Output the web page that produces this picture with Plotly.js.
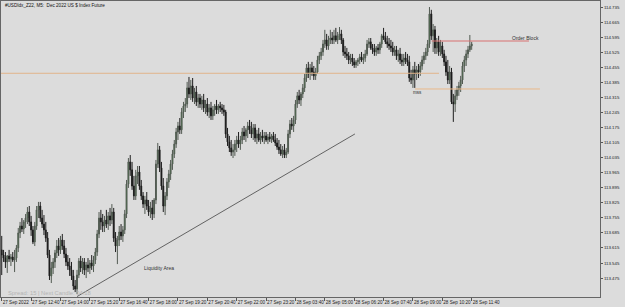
<!DOCTYPE html>
<html>
<head>
<meta charset="utf-8">
<script src="https://cdn.plot.ly/plotly-3.0.1.min.js"></script>
<style>html,body{margin:0;padding:0;background:#dcdcdc;}#chart{width:625px;height:307px;}</style>
</head>
<body>
<div id="chart"></div>
<script>
const openP = [113.606,113.582,113.568,113.550,113.578,113.564,113.573,113.559,113.568,113.615,113.685,113.717,113.703,113.736,113.754,113.782,113.736,113.699,113.643,113.717,113.792,113.810,113.754,113.726,113.699,113.661,113.582,113.485,113.522,113.550,113.592,113.624,113.606,113.652,113.624,113.587,113.550,113.531,113.513,113.485,113.438,113.424,113.489,113.554,113.522,113.550,113.513,113.536,113.522,113.545,113.531,113.559,113.596,113.680,113.754,113.736,113.717,113.745,113.726,113.764,113.745,113.782,113.661,113.624,113.652,113.689,113.671,113.699,113.773,113.912,114.015,113.978,113.903,113.857,113.950,113.968,113.903,113.857,113.819,113.838,113.810,113.782,113.801,113.773,113.838,114.005,114.071,113.987,113.903,113.810,113.857,113.922,113.959,114.005,114.052,114.098,114.154,114.182,114.164,114.247,114.275,114.284,114.359,114.331,114.368,114.312,114.340,114.294,114.312,114.284,114.303,114.266,114.284,114.247,114.266,114.229,114.257,114.275,114.257,114.275,114.266,114.257,114.247,114.145,114.108,114.080,114.061,114.071,114.098,114.117,114.098,114.117,114.154,114.136,114.164,114.182,114.164,114.145,114.173,114.126,114.145,114.117,114.136,114.126,114.136,114.117,114.131,114.122,114.136,114.117,114.103,114.084,114.071,114.052,114.071,114.047,114.061,114.145,114.191,114.182,114.210,114.284,114.322,114.303,114.331,114.359,114.405,114.452,114.424,114.452,114.433,114.415,114.433,114.489,114.508,114.526,114.563,114.582,114.554,114.582,114.591,114.582,114.601,114.582,114.601,114.610,114.582,114.526,114.517,114.508,114.489,114.498,114.480,114.466,114.480,114.489,114.503,114.489,114.498,114.517,114.563,114.573,114.545,114.536,114.526,114.545,114.536,114.563,114.601,114.591,114.573,114.563,114.554,114.545,114.526,114.536,114.508,114.517,114.489,114.480,114.498,114.489,114.480,114.405,114.396,114.443,114.424,114.443,114.433,114.461,114.489,114.508,114.526,114.563,114.703,114.601,114.629,114.545,114.573,114.526,114.554,114.517,114.480,114.433,114.396,114.433,114.294,114.284,114.322,114.350,114.368,114.396,114.461,114.489,114.517,114.536,114.554];
const highP = [113.671,113.606,113.596,113.582,113.606,113.587,113.596,113.606,113.629,113.708,113.736,113.754,113.745,113.773,113.805,113.810,113.764,113.717,113.736,113.810,113.829,113.829,113.792,113.768,113.736,113.689,113.606,113.550,113.568,113.606,113.652,113.661,113.671,113.680,113.652,113.615,113.582,113.568,113.550,113.513,113.466,113.513,113.568,113.578,113.568,113.568,113.550,113.568,113.559,113.582,113.578,113.615,113.699,113.782,113.792,113.773,113.764,113.792,113.782,113.801,113.819,113.801,113.689,113.671,113.717,113.726,113.717,113.792,113.931,114.033,114.047,114.015,113.950,113.978,113.996,113.996,113.931,113.875,113.857,113.875,113.838,113.829,113.838,113.847,114.024,114.103,114.089,114.015,113.940,113.875,113.940,113.978,114.024,114.071,114.117,114.173,114.201,114.219,114.266,114.294,114.312,114.387,114.410,114.396,114.405,114.359,114.368,114.331,114.331,114.322,114.331,114.303,114.312,114.284,114.294,114.275,114.284,114.303,114.284,114.294,114.284,114.280,114.257,114.173,114.136,114.117,114.098,114.117,114.136,114.154,114.136,114.173,114.182,114.173,114.201,114.210,114.201,114.191,114.191,114.164,114.173,114.154,114.164,114.154,114.154,114.145,114.154,114.145,114.154,114.145,114.126,114.117,114.098,114.089,114.098,114.080,114.164,114.210,114.219,114.229,114.303,114.340,114.350,114.340,114.377,114.424,114.470,114.480,114.470,114.480,114.461,114.452,114.508,114.526,114.545,114.582,114.629,114.610,114.601,114.629,114.619,114.629,114.638,114.619,114.642,114.629,114.591,114.554,114.545,114.526,114.517,114.517,114.498,114.489,114.498,114.517,114.526,114.517,114.536,114.582,114.591,114.591,114.563,114.563,114.554,114.563,114.573,114.610,114.638,114.619,114.601,114.591,114.582,114.573,114.554,114.554,114.536,114.545,114.517,114.517,114.526,114.517,114.508,114.443,114.461,114.480,114.461,114.470,114.480,114.508,114.526,114.545,114.582,114.735,114.722,114.656,114.647,114.591,114.601,114.582,114.573,114.536,114.508,114.489,114.461,114.452,114.331,114.350,114.368,114.387,114.415,114.480,114.508,114.536,114.554,114.605,114.573];
const lowP = [113.489,113.550,113.522,113.499,113.550,113.531,113.550,113.503,113.550,113.596,113.661,113.689,113.680,113.708,113.726,113.717,113.671,113.633,113.624,113.699,113.754,113.736,113.708,113.675,113.643,113.568,113.466,113.452,113.494,113.522,113.568,113.578,113.587,113.606,113.568,113.531,113.513,113.485,113.466,113.420,113.410,113.401,113.475,113.503,113.494,113.489,113.475,113.503,113.494,113.513,113.503,113.540,113.578,113.661,113.699,113.689,113.689,113.708,113.699,113.717,113.726,113.643,113.596,113.540,113.624,113.652,113.643,113.680,113.754,113.894,113.950,113.885,113.838,113.838,113.912,113.885,113.838,113.801,113.773,113.792,113.764,113.754,113.745,113.754,113.819,113.987,113.968,113.885,113.782,113.768,113.838,113.894,113.931,113.978,114.033,114.080,114.117,114.145,114.145,114.219,114.247,114.266,114.312,114.303,114.294,114.284,114.275,114.266,114.266,114.257,114.247,114.238,114.229,114.219,114.210,114.210,114.229,114.238,114.238,114.247,114.238,114.229,114.126,114.089,114.061,114.043,114.033,114.043,114.061,114.080,114.071,114.098,114.117,114.108,114.126,114.145,114.126,114.117,114.108,114.098,114.108,114.098,114.108,114.098,114.108,114.098,114.108,114.103,114.108,114.089,114.071,114.052,114.043,114.033,114.033,114.033,114.052,114.126,114.164,114.154,114.191,114.266,114.284,114.275,114.312,114.340,114.387,114.405,114.396,114.415,114.396,114.396,114.424,114.470,114.489,114.508,114.545,114.536,114.536,114.563,114.563,114.563,114.573,114.563,114.582,114.563,114.508,114.498,114.489,114.470,114.470,114.461,114.452,114.452,114.461,114.470,114.480,114.470,114.480,114.508,114.545,114.536,114.517,114.508,114.508,114.517,114.517,114.545,114.582,114.563,114.545,114.536,114.526,114.508,114.508,114.489,114.480,114.470,114.461,114.461,114.470,114.461,114.387,114.377,114.359,114.359,114.396,114.405,114.415,114.443,114.470,114.489,114.508,114.545,114.582,114.526,114.517,114.517,114.508,114.508,114.498,114.461,114.415,114.377,114.377,114.284,114.201,114.247,114.303,114.322,114.340,114.377,114.433,114.461,114.498,114.526,114.536];
const closeP = [113.582,113.568,113.550,113.578,113.564,113.573,113.559,113.568,113.615,113.685,113.717,113.703,113.736,113.754,113.782,113.736,113.699,113.643,113.717,113.792,113.810,113.754,113.726,113.699,113.661,113.582,113.485,113.522,113.550,113.592,113.624,113.606,113.652,113.624,113.587,113.550,113.531,113.513,113.485,113.438,113.424,113.489,113.554,113.522,113.550,113.513,113.536,113.522,113.545,113.531,113.559,113.596,113.680,113.754,113.736,113.717,113.745,113.726,113.764,113.745,113.782,113.661,113.624,113.652,113.689,113.671,113.699,113.773,113.912,114.015,113.978,113.903,113.857,113.950,113.968,113.903,113.857,113.819,113.838,113.810,113.782,113.801,113.773,113.838,114.005,114.071,113.987,113.903,113.810,113.857,113.922,113.959,114.005,114.052,114.098,114.154,114.182,114.164,114.247,114.275,114.284,114.359,114.331,114.368,114.312,114.340,114.294,114.312,114.284,114.303,114.266,114.284,114.247,114.266,114.229,114.257,114.275,114.257,114.275,114.266,114.257,114.247,114.145,114.108,114.080,114.061,114.071,114.098,114.117,114.098,114.117,114.154,114.136,114.164,114.182,114.164,114.145,114.173,114.126,114.145,114.117,114.136,114.126,114.136,114.117,114.131,114.122,114.136,114.117,114.103,114.084,114.071,114.052,114.071,114.047,114.061,114.145,114.191,114.182,114.210,114.284,114.322,114.303,114.331,114.359,114.405,114.452,114.424,114.452,114.433,114.415,114.433,114.489,114.508,114.526,114.563,114.582,114.554,114.582,114.591,114.582,114.601,114.582,114.601,114.610,114.582,114.526,114.517,114.508,114.489,114.498,114.480,114.466,114.480,114.489,114.503,114.489,114.498,114.517,114.563,114.573,114.545,114.536,114.526,114.545,114.536,114.563,114.601,114.591,114.573,114.563,114.554,114.545,114.526,114.536,114.508,114.517,114.489,114.480,114.498,114.489,114.480,114.405,114.396,114.443,114.424,114.443,114.433,114.461,114.489,114.508,114.526,114.563,114.703,114.601,114.629,114.545,114.573,114.526,114.554,114.517,114.480,114.433,114.396,114.433,114.294,114.284,114.322,114.350,114.368,114.396,114.461,114.489,114.517,114.536,114.554,114.563];

const timeTickBars = [0,16,32,48,64,80,96,112,128,144,160,176,192,208,224,240,256];
const timeTickLabels = ["27 Sep 2022","27 Sep 12:40","27 Sep 14:00","27 Sep 15:20","27 Sep 16:40","27 Sep 18:00","27 Sep 19:20","27 Sep 20:40","27 Sep 22:00","27 Sep 23:20","28 Sep 03:40","28 Sep 05:00","28 Sep 06:20","28 Sep 07:40","28 Sep 09:00","28 Sep 10:20","28 Sep 11:40"];
const priceTicks = [114.735,114.665,114.595,114.525,114.455,114.385,114.315,114.245,114.175,114.105,114.035,113.965,113.895,113.825,113.755,113.685,113.615,113.545,113.475];

const resistanceLevel = 114.427;
const mssLevel = 114.354;
const orderBlockLevel = 114.577;
const trendFrom = {bar: 41, price: 113.389};
const trendTo = {bar: 192.4, price: 114.145};

const xIdx = closeP.map((_, i) => i);

const trace = {
  type: 'candlestick',
  x: xIdx, open: openP, high: highP, low: lowP, close: closeP,
  increasing: {line: {color: '#525a52', width: 1}, fillcolor: '#3c8c3c'},
  decreasing: {line: {color: '#1e1e1e', width: 1}, fillcolor: '#000000'},
  whiskerwidth: 0,
  hoverinfo: 'skip'
};

const fontFam = 'Liberation Sans, Arial, sans-serif';

const layout = {
  width: 625, height: 307,
  margin: {l: 1, r: 25, t: 1, b: 10, pad: 0},
  paper_bgcolor: '#dcdcdc', plot_bgcolor: '#dcdcdc',
  showlegend: false,
  xaxis: {
    range: [-0.4, 325.9], showgrid: false, zeroline: false,
    rangeslider: {visible: false},
    tickmode: 'array', tickvals: timeTickBars, ticktext: timeTickLabels,
    ticks: 'outside', ticklen: 3, tickcolor: '#555', tickwidth: 1,
    tickangle: 0, automargin: false,
    ticklabelposition: 'outside right',
    tickfont: {family: fontFam, size: 4.6, color: '#222'},
    showline: true, linecolor: '#666', linewidth: 1, mirror: true
  },
  yaxis: {
    range: [113.387, 114.763], side: 'right', showgrid: false, zeroline: false,
    tickmode: 'array', tickvals: priceTicks, ticktext: priceTicks.map(v => v.toFixed(3)),
    ticks: 'outside', ticklen: 2, tickcolor: '#555', tickwidth: 1, automargin: false,
    tickfont: {family: fontFam, size: 4.4, color: '#222'},
    showline: true, linecolor: '#666', linewidth: 1, mirror: true
  },
  shapes: [
    {type: 'line', xref: 'x', yref: 'y', x0: -1, x1: 238.2, y0: resistanceLevel, y1: resistanceLevel, line: {color: '#e2b48a', width: 1}},
    {type: 'line', xref: 'x', yref: 'y', x0: 225.1, x1: 293.2, y0: mssLevel, y1: mssLevel, line: {color: '#eab98a', width: 1}},
    {type: 'line', xref: 'x', yref: 'y', x0: 234.2, x1: 287.2, y0: orderBlockLevel, y1: orderBlockLevel, line: {color: '#d87070', width: 1}},
    {type: 'line', xref: 'x', yref: 'y', x0: trendFrom.bar, x1: trendTo.bar, y0: trendFrom.price, y1: trendTo.price, line: {color: '#444', width: 0.8}}
  ],
  annotations: [
    {xref: 'paper', yref: 'paper', x: 0.003, y: 0.985, xanchor: 'left', yanchor: 'middle', showarrow: false,
     text: '#USDIdx_Z22, M5:  Dec 2022 US $ Index Future', font: {family: fontFam, size: 4.6, color: '#111'}},
    {xref: 'paper', yref: 'paper', x: 0.008, y: 0.015, xanchor: 'left', yanchor: 'middle', showarrow: false,
     text: 'Spread: 15 | Next Candle: 04:18', font: {family: fontFam, size: 5.8, color: '#b4b4b4'}},
    {xref: 'x', yref: 'y', x: 285.3, y: 114.593, xanchor: 'center', yanchor: 'middle', showarrow: false,
     text: 'Order Block', font: {family: fontFam, size: 5, color: '#333'}},
    {xref: 'x', yref: 'y', x: 226.7, y: 114.336, xanchor: 'center', yanchor: 'middle', showarrow: false,
     text: 'mss', font: {family: fontFam, size: 4.6, color: '#333'}},
    {xref: 'x', yref: 'y', x: 85.7, y: 113.522, xanchor: 'center', yanchor: 'middle', showarrow: false,
     text: 'Liquidity Area', font: {family: fontFam, size: 5, color: '#333'}}
  ]
};

Plotly.newPlot('chart', [trace], layout, {displayModeBar: false, staticPlot: true});
</script>
</body>
</html>
